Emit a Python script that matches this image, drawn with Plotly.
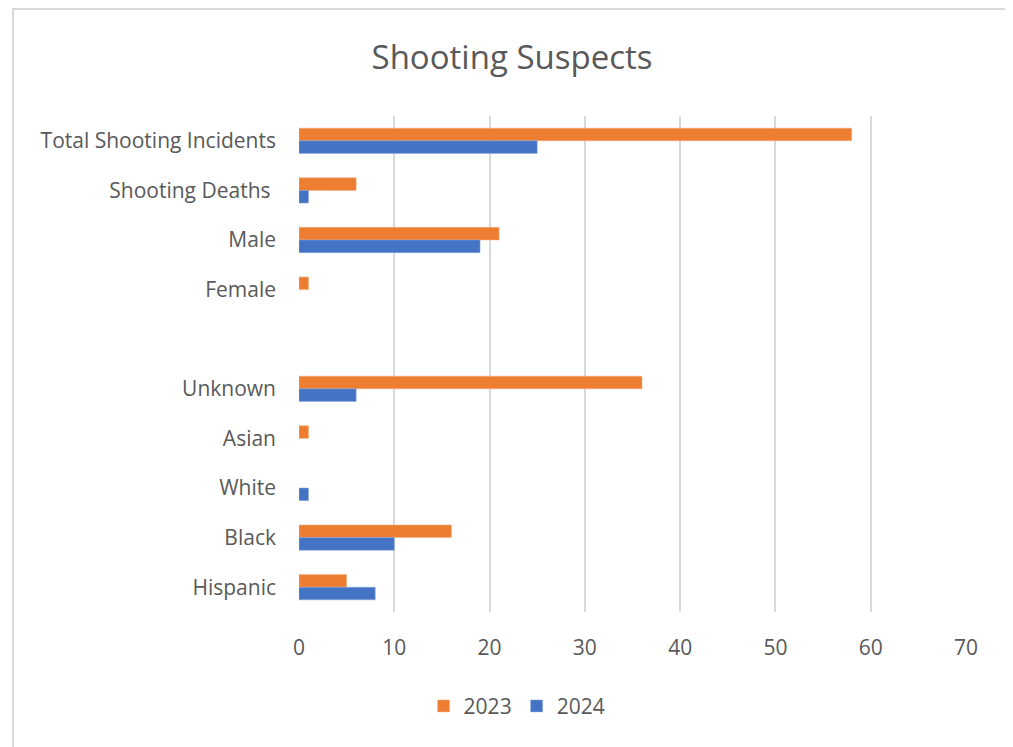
import plotly.graph_objects as go

categories = ["Total Shooting Incidents", "Shooting Deaths ", "Male", "Female", " ",
              "Unknown", "Asian", "White", "Black", "Hispanic"]
values_2023 = [58, 6, 21, 1, None, 36, 1, None, 16, 5]
values_2024 = [25, 1, 19, None, None, 6, None, 1, 10, 8]
x_ticks = [0, 10, 20, 30, 40, 50, 60, 70]

FONT = "Open Sans"
GREY = "#595959"

fig = go.Figure()
fig.add_trace(go.Bar(y=categories, x=values_2023, name="2023", orientation="h",
                     marker=dict(color="#ED7D31", line=dict(color="#F4B183", width=0.5))))
fig.add_trace(go.Bar(y=categories, x=values_2024, name="2024", orientation="h",
                     marker=dict(color="#4472C4", line=dict(color="#8FAADC", width=0.5))))

fig.update_layout(
    width=1005, height=739,
    margin=dict(l=291, r=47, t=108, b=135),
    paper_bgcolor="white", plot_bgcolor="white",
    barmode="group", bargap=0.49, bargroupgap=0,
    font=dict(family=FONT, color=GREY, size=21),
    title=dict(text="Shooting Suspects", x=0.5015, xanchor="center", y=0.9337, yanchor="middle",
               font=dict(family=FONT, size=33, color=GREY)),
    legend=dict(orientation="h", x=0.327, xanchor="center", y=-0.19, yanchor="middle",
                font=dict(size=21, color=GREY), traceorder="normal"),
    xaxis=dict(range=[0, 70], tickvals=x_ticks, showgrid=True, gridcolor="#d9d9d9", gridwidth=2,
               zeroline=False, showline=False, ticks="", ticklabelstandoff=21,
               tickfont=dict(size=21, color=GREY)),
    yaxis=dict(type="category", categoryorder="array", categoryarray=categories,
               autorange="reversed", showgrid=False, zeroline=False, showline=False,
               ticks="", ticklabelstandoff=22, tickfont=dict(size=21, color=GREY)),
    shapes=[dict(type="rect", xref="paper", yref="paper",
                 x0=(13 - 299) / 667, x1=(1008 - 299) / 667,
                 y0=(612 - 770) / 496, y1=(612 - 9) / 496,
                 line=dict(color="#d9d9d9", width=2), fillcolor="rgba(0,0,0,0)", layer="below")],
)

fig.write_html("out.html")
